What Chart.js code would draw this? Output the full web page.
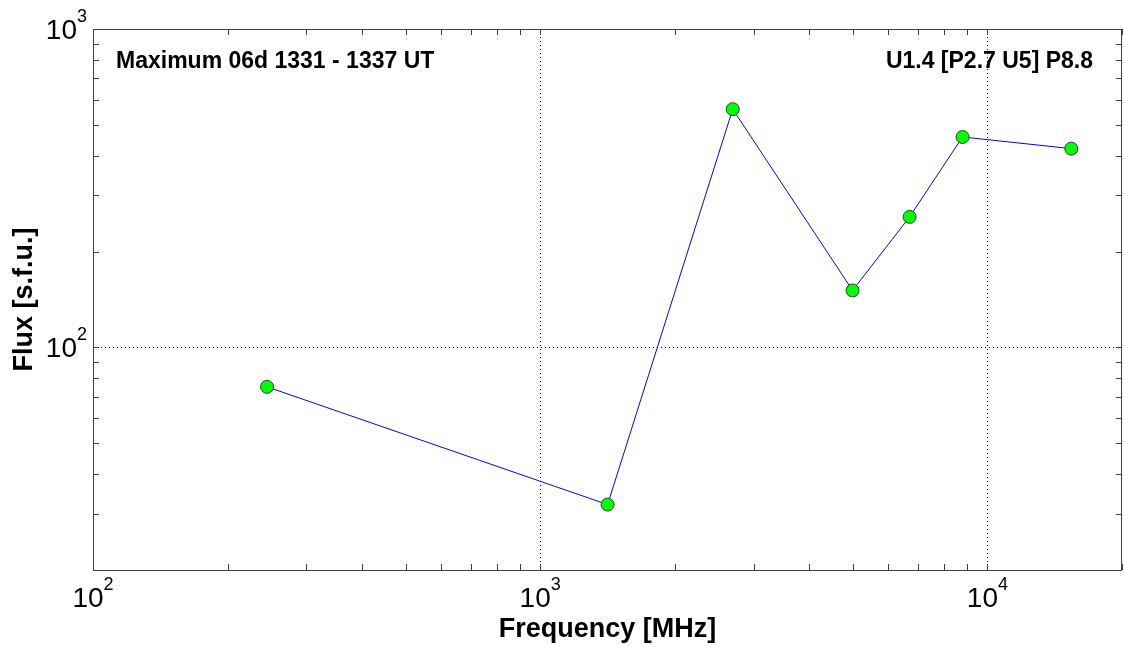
<!DOCTYPE html>
<html>
<head>
<meta charset="utf-8">
<script src="https://cdn.jsdelivr.net/npm/chart.js@4"></script>
<style>
    html, body { margin: 0; padding: 0; background: #fff; }
    #fluxChart { display: block; }
</style>
</head>
<body>
<canvas id="fluxChart" width="1124" height="647"></canvas>
<script>
// frequency (MHz) and flux (s.f.u.) at maximum
var frequencies = [245, 1415, 2695, 4995, 6700, 8800, 15400];
var fluxValues = [75.2, 32.1, 560, 151, 257, 458, 421];

// tick positions (log axes, minor ticks every integer multiple)
var xTickValues = [100, 200, 300, 400, 500, 600, 700, 800, 900,
    1000, 2000, 3000, 4000, 5000, 6000, 7000, 8000, 9000, 10000, 20000];
var yTickValues = [20, 30, 40, 50, 60, 70, 80, 90,
    100, 200, 300, 400, 500, 600, 700, 800, 900, 1000];
var xMajorTicks = [100, 1000, 10000];
var yMajorTicks = [100, 1000];

var titleLeft = 'Maximum 06d 1331 - 1337 UT';
var titleRight = 'U1.4 [P2.7 U5] P8.8';
var xAxisTitle = 'Frequency [MHz]';
var yAxisTitle = 'Flux [s.f.u.]';

var FONT = '"Liberation Sans", Arial, Helvetica, sans-serif';
var AXIS_COLOR = '#404040';

function isMajor(list, v) {
    return list.indexOf(v) !== -1;
}

// "10" + superscript exponent, like matlab log labels
function drawPowerLabel(ctx, value, x, y, align) {
    var exp = String(Math.round(Math.log10(value)));
    ctx.font = '28px ' + FONT;
    var baseW = ctx.measureText('10').width;
    ctx.font = '18px ' + FONT;
    var expW = ctx.measureText(exp).width;
    var left;
    if (align === 'center') {
        left = x - (baseW + expW) / 2;
    } else {
        left = x - (baseW + expW);
    }
    ctx.textAlign = 'left';
    ctx.textBaseline = 'alphabetic';
    ctx.font = '28px ' + FONT;
    ctx.fillText('10', left, y);
    ctx.font = '18px ' + FONT;
    ctx.fillText(exp, left + baseW, y - 17);
}

var framePlugin = {
    id: 'frame',
    afterDraw: function(chart) {
        var ctx = chart.ctx;
        var area = chart.chartArea;
        var xs = chart.scales.x;
        var ys = chart.scales.y;
        var tickLen = 6;

        ctx.save();
        ctx.strokeStyle = AXIS_COLOR;
        ctx.lineWidth = 1;

        // inside ticks on all four sides
        ctx.beginPath();
        xTickValues.forEach(function(v) {
            var px = Math.round(xs.getPixelForValue(v)) + 0.5;
            ctx.moveTo(px, area.bottom);
            ctx.lineTo(px, area.bottom - tickLen);
            ctx.moveTo(px, area.top);
            ctx.lineTo(px, area.top + tickLen);
        });
        yTickValues.forEach(function(v) {
            var py = Math.round(ys.getPixelForValue(v)) + 0.5;
            ctx.moveTo(area.left, py);
            ctx.lineTo(area.left + tickLen, py);
            ctx.moveTo(area.right, py);
            ctx.lineTo(area.right - tickLen, py);
        });
        ctx.stroke();

        // box
        ctx.strokeRect(Math.round(area.left) + 0.5, Math.round(area.top) + 0.5,
            Math.round(area.right - area.left) - 1, Math.round(area.bottom - area.top));

        // tick labels
        ctx.fillStyle = '#000';
        xMajorTicks.forEach(function(v) {
            drawPowerLabel(ctx, v, xs.getPixelForValue(v), area.bottom + 37, 'center');
        });
        yMajorTicks.forEach(function(v) {
            drawPowerLabel(ctx, v, area.left - 6, ys.getPixelForValue(v) + 10, 'right');
        });

        // axis titles
        ctx.font = 'bold 27px ' + FONT;
        ctx.textAlign = 'center';
        ctx.textBaseline = 'alphabetic';
        ctx.fillText(xAxisTitle, (area.left + area.right) / 2, 637);

        ctx.save();
        ctx.translate(32, (area.top + area.bottom) / 2);
        ctx.rotate(-Math.PI / 2);
        ctx.fillText(yAxisTitle, 0, 0);
        ctx.restore();

        // annotations inside the axes
        ctx.font = 'bold 23px ' + FONT;
        ctx.textAlign = 'left';
        ctx.fillText(titleLeft, 116, 68);
        ctx.textAlign = 'right';
        ctx.fillText(titleRight, 1093, 68);

        ctx.restore();
    }
};

document.addEventListener('DOMContentLoaded', function() {
    var points = frequencies.map(function(f, i) {
        return { x: f, y: fluxValues[i] };
    });

    var gridColor = function(majors, skip) {
        return function(c) {
            var v = c.tick && c.tick.value;
            return (isMajor(majors, v) && v !== skip) ? '#000' : 'rgba(0,0,0,0)';
        };
    };

    var ctx = document.getElementById('fluxChart').getContext('2d');
    new Chart(ctx, {
        type: 'scatter',
        data: {
            datasets: [{
                data: points,
                showLine: true,
                borderColor: '#0000ff',
                borderWidth: 1,
                pointRadius: 6.5,
                pointBackgroundColor: '#00ff00',
                pointBorderColor: '#3a3a3a',
                pointBorderWidth: 1
            }]
        },
        options: {
            responsive: false,
            animation: false,
            layout: {
                autoPadding: false,
                padding: { left: 93, top: 29, right: 2, bottom: 77 }
            },
            scales: {
                x: {
                    type: 'logarithmic',
                    min: 100,
                    max: 20000,
                    afterBuildTicks: function(scale) {
                        scale.ticks = xTickValues.map(function(v) { return { value: v }; });
                    },
                    ticks: { display: false },
                    border: { display: false, dash: [1, 3] },
                    grid: { drawTicks: false, lineWidth: 1, color: gridColor(xMajorTicks, 100) }
                },
                y: {
                    type: 'logarithmic',
                    min: 20,
                    max: 1000,
                    afterBuildTicks: function(scale) {
                        scale.ticks = yTickValues.map(function(v) { return { value: v }; });
                    },
                    ticks: { display: false },
                    border: { display: false, dash: [1, 3] },
                    grid: { drawTicks: false, lineWidth: 1, color: gridColor(yMajorTicks, 1000) }
                }
            },
            plugins: {
                legend: { display: false },
                tooltip: { enabled: false }
            }
        },
        plugins: [framePlugin]
    });
});
</script>
</body>
</html>
